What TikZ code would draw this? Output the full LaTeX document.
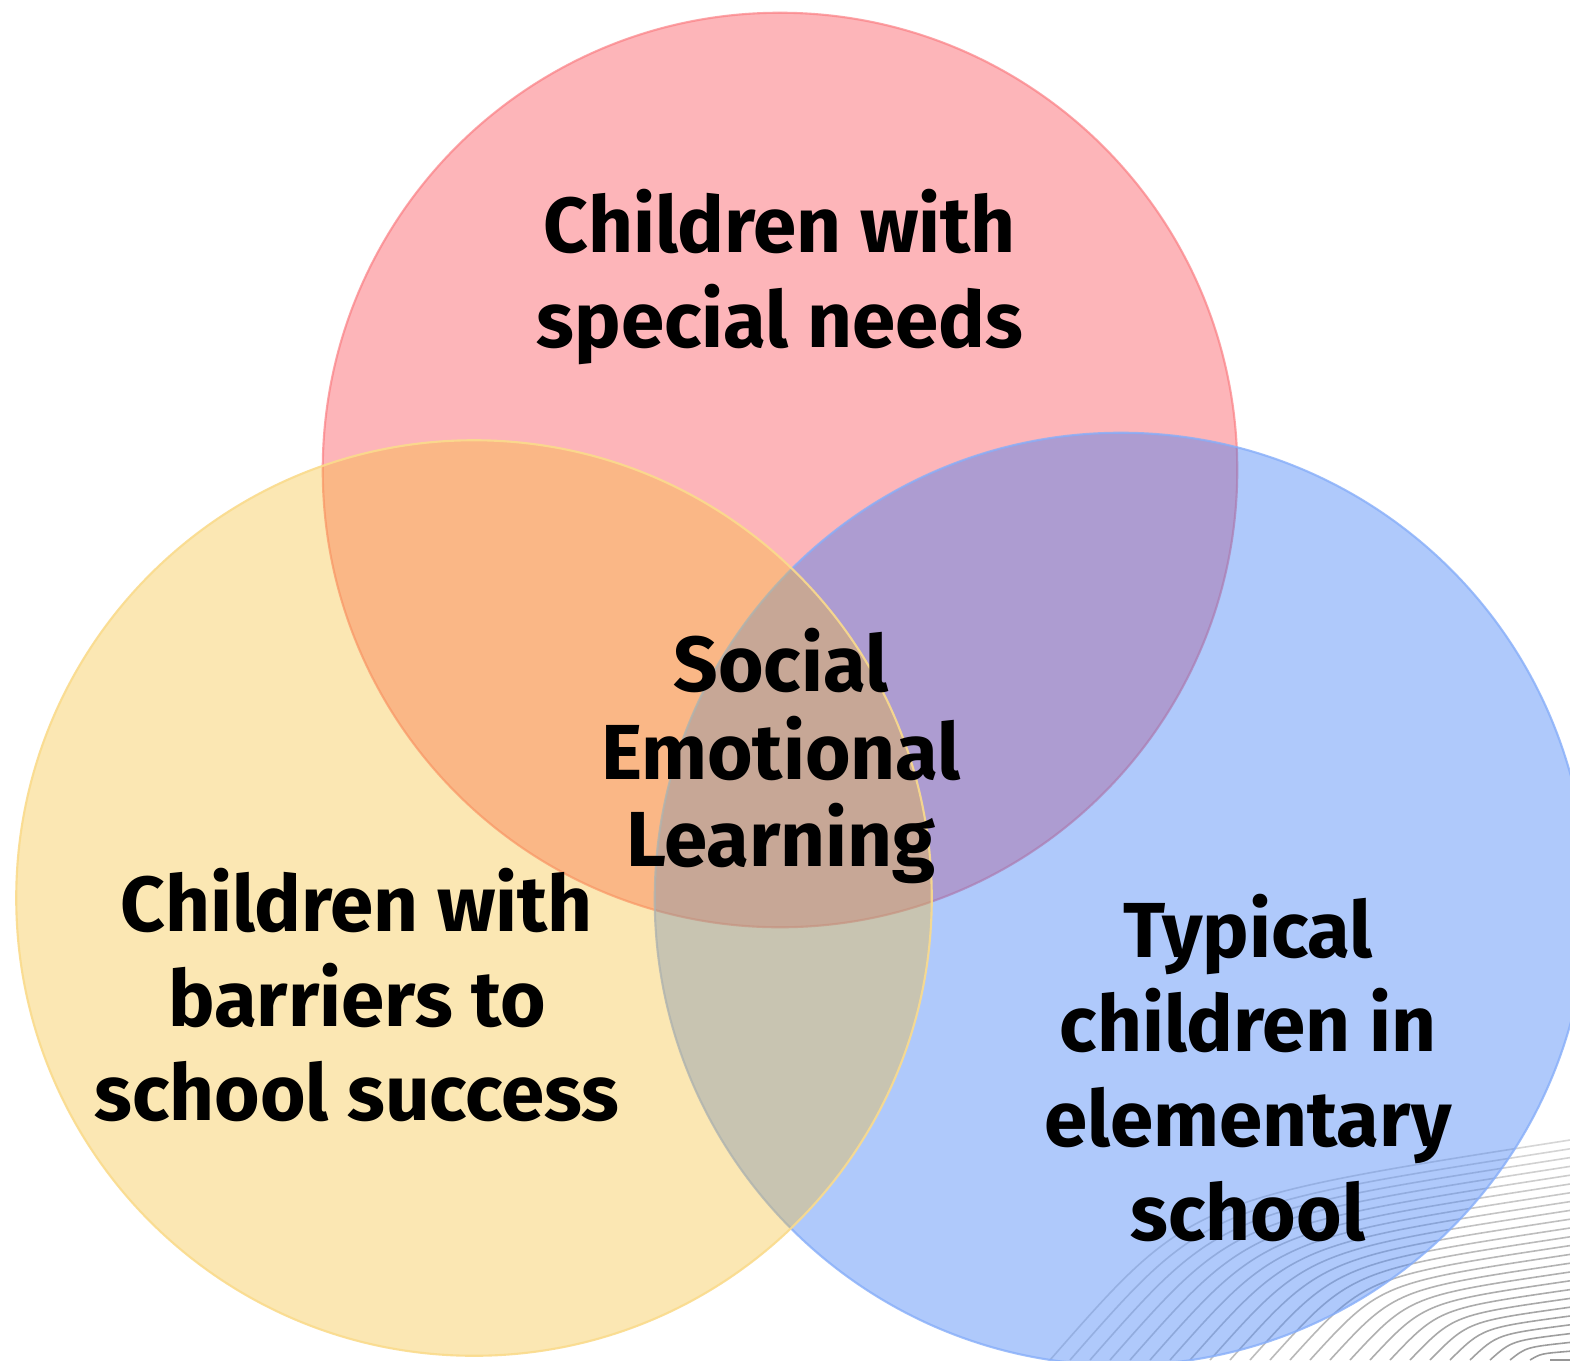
\documentclass[tikz,border=0pt]{standalone}
\usepackage{fontspec}
\setmainfont{Fira Sans}
\definecolor{needs}{RGB}{250,72,80}
\definecolor{typical}{RGB}{55,120,245}
\definecolor{barriers}{RGB}{246,189,46}
\begin{document}
\begin{tikzpicture}[x=0.01cm,y=-0.01cm,
  set/.style={circle, inner sep=0pt, line width=0.6pt},
  lab/.style={align=center, font=\fontsize{22.2}{26.8}\selectfont\bfseries}]
\useasboundingbox (0,0) rectangle (1570,1360);
\clip (0,0) rectangle (1570,1360);
\fill[white] (0,0) rectangle (1570,1360);
\foreach \i in {0,...,25} {
  \pgfmathsetmacro\xs{1050+20*\i}
  \pgfmathsetmacro\ye{1140+8.8*\i}
  \pgfmathsetmacro\cx{\xs+0.27*(1570-\xs)}
  \pgfmathsetmacro\cy{\ye+0.27*(1360-\ye)}
  \pgfmathsetmacro\sh{16+1.0*\i}
  \draw[black!\sh, line width=0.45pt] (\xs,1360) .. controls (\cx,\cy) .. (1570,\ye);
}
\node[set, minimum size=9.14cm, fill=needs, fill opacity=0.4, draw=needs!70, draw opacity=0.7] (needs) at (780,470) {};
\node[set, minimum size=9.32cm, fill=typical, fill opacity=0.4, draw=typical!60, draw opacity=0.8] (typical) at (1121,899) {};
\node[set, minimum size=9.15cm, fill=barriers, fill opacity=0.36, draw=barriers!55, draw opacity=0.9] (barriers) at (474,898) {};

\node[lab] (n) at (780,277) {Children with\\special needs};
\node[lab, font=\fontsize{22.2}{25}\selectfont\bfseries] (s) at (781,756) {Social\\Emotional\\Learning};
\node[lab] (b) at (357,995) {Children with\\barriers to\\school success};
\node[lab] (t) at (1248,1068) {Typical\\children in\\elementary\\school};
\end{tikzpicture}
\end{document}
